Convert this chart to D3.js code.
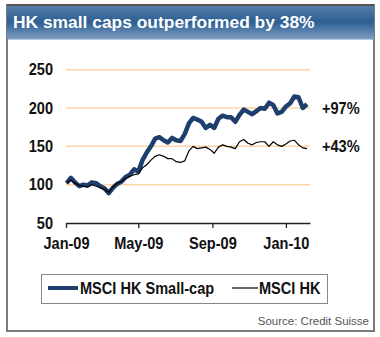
<!DOCTYPE html>
<html>
<head>
<meta charset="utf-8">
<script src="https://cdn.jsdelivr.net/npm/d3@7"></script>
<style>
  html, body { margin: 0; padding: 0; background: #ffffff; }
  svg { display: block; }
</style>
</head>
<body>
<svg id="chart" width="380" height="337"></svg>
<script>
// ---- data (weekly) ----
const startDate = "2009-01-02";
const weeks = 58;
const smallCap = [102,109,103,98,100,99,103,102,98,95,89,96,101,104,110,113,120,117,132,142,
                  150,160,162,158,155,161,158,157,166,180,187,185,182,174,178,174,186,190,188,188,
                  182,191,198,195,192,196,200,199,207,204,193,195,202,206,215,214,200,205];
const msciHK   = [102,106,102,99,98,97,100,98,96,94,90,97,102,104,108,111,113,114,122,126,
                  132,137,139,137,134,134,130,129,131,144,150,147,148,149,146,141,149,152,150,149,
                  147,156,159,154,152,155,156,156,150,156,152,150,153,157,158,152,148,147];
const yTicks = [50, 100, 150, 200, 250];
const xTickLabels = ["Jan-09", "May-09", "Sep-09", "Jan-10"];
const xTickDates = ["2009-01-01", "2009-05-01", "2009-09-01", "2010-01-01"];
const seriesNames = ["MSCI HK Small-cap", "MSCI HK"];
const endLabels = ["+97%", "+43%"];
const endLabelValues = [200, 150];
const title = "HK small caps outperformed by 38%";
const source = "Source: Credit Suisse";

const parse = d3.timeParse("%Y-%m-%d");
const d0 = parse(startDate);
const dates = d3.range(weeks).map(i => d3.timeDay.offset(d0, i * 7));

const svg = d3.select("#chart");
const font = "'Liberation Sans', Arial, sans-serif";
const SQ = 0.91; // horizontal condensing of chart labels

function condText(sel, x0, y0, txt, anchor) {
  return sel.append("text")
    .attr("transform", `translate(${x0},${y0}) scale(${SQ},1)`)
    .attr("dy", "0.36em").attr("text-anchor", anchor || "start")
    .attr("font-family", font).attr("font-weight", "bold").attr("font-size", 16)
    .attr("fill", "#111").text(txt);
}

// ---- frame & title bar ----
const defs = svg.append("defs");
const grad = defs.append("linearGradient").attr("id", "tg").attr("x1", 0).attr("y1", 0).attr("x2", 0).attr("y2", 1);
[[0, "#5a7fa9"], [0.5, "#2c5f93"], [1, "#7d9dc2"]].forEach(([o, c]) =>
  grad.append("stop").attr("offset", o).attr("stop-color", c));

svg.append("rect").attr("x", 7).attr("y", 5).attr("width", 367).attr("height", 326)
  .attr("fill", "#fff").attr("stroke", "#7a7a7a").attr("stroke-width", 2);
svg.append("rect").attr("x", 7).attr("y", 5).attr("width", 367).attr("height", 34)
  .attr("fill", "url(#tg)");
svg.append("line").attr("x1", 7).attr("x2", 374).attr("y1", 5).attr("y2", 5)
  .attr("stroke", "#555").attr("stroke-width", 2);
svg.append("line").attr("x1", 8).attr("x2", 373).attr("y1", 39.5).attr("y2", 39.5)
  .attr("stroke", "#b9cae2").attr("stroke-width", 1);
svg.append("text").attr("x", 13).attr("y", 28).text(title)
  .attr("fill", "#fff").attr("font-family", font)
  .attr("font-weight", "bold").attr("font-size", 17.4);

// ---- scales ----
const x = d3.scaleTime().domain([parse("2009-01-01"), parse("2010-02-10")]).range([66, 310]);
const y = d3.scaleLinear().domain([50, 250]).range([223, 69.7]);

// grid
svg.append("g").selectAll("line").data(yTicks.filter(v => v > 50)).join("line")
  .attr("x1", 66).attr("x2", 310).attr("y1", d => y(d)).attr("y2", d => y(d))
  .attr("stroke", "#fdd4a4").attr("stroke-width", 1.5);

// y labels
const gy = svg.append("g");
yTicks.forEach(v => condText(gy, 53, y(v), v, "end"));

// x axis
const xAxis = d3.axisBottom(x)
  .tickValues(xTickDates.map(parse))
  .tickFormat((d, i) => xTickLabels[i])
  .tickSizeInner(5).tickSizeOuter(0).tickPadding(10);
const gx = svg.append("g").attr("transform", `translate(0,${y(50)})`).call(xAxis);
gx.select(".domain").attr("stroke", "#222").attr("stroke-width", 1.3);
gx.selectAll(".tick line").attr("stroke", "#222").attr("stroke-width", 1.3);
gx.selectAll(".tick text").attr("font-family", font).attr("font-weight", "bold")
  .attr("font-size", 16).attr("fill", "#111")
  .attr("transform", `scale(${SQ},1)`);

// lines
const line = vals => d3.line().x((d, i) => x(dates[i])).y(d => y(d))(vals);
svg.append("path").attr("d", line(smallCap)).attr("fill", "none")
  .attr("stroke", "#1e3f6e").attr("stroke-width", 4.5).attr("stroke-linejoin", "round");
svg.append("path").attr("d", line(msciHK)).attr("fill", "none")
  .attr("stroke", "#000").attr("stroke-width", 1.2).attr("stroke-linejoin", "round");

// end labels
const ge = svg.append("g");
endLabels.forEach((t, i) => condText(ge, 322, y(endLabelValues[i]), t, "start"));

// legend
const lg = svg.append("g");
lg.append("rect").attr("x", 41.5).attr("y", 274.5).attr("width", 286).attr("height", 29)
  .attr("fill", "#fff").attr("stroke", "#888").attr("stroke-width", 1);
lg.append("line").attr("x1", 48).attr("x2", 78).attr("y1", 288).attr("y2", 288)
  .attr("stroke", "#1e3f6e").attr("stroke-width", 4);
condText(lg, 80, 288, seriesNames[0], "start");
lg.append("line").attr("x1", 232).attr("x2", 258).attr("y1", 288).attr("y2", 288)
  .attr("stroke", "#000").attr("stroke-width", 1.2);
condText(lg, 259, 288, seriesNames[1], "start");

// source
svg.append("text").attr("x", 369).attr("y", 325).attr("text-anchor", "end").text(source)
  .attr("font-family", font).attr("font-size", 11.5).attr("fill", "#555");
</script>
</body>
</html>
